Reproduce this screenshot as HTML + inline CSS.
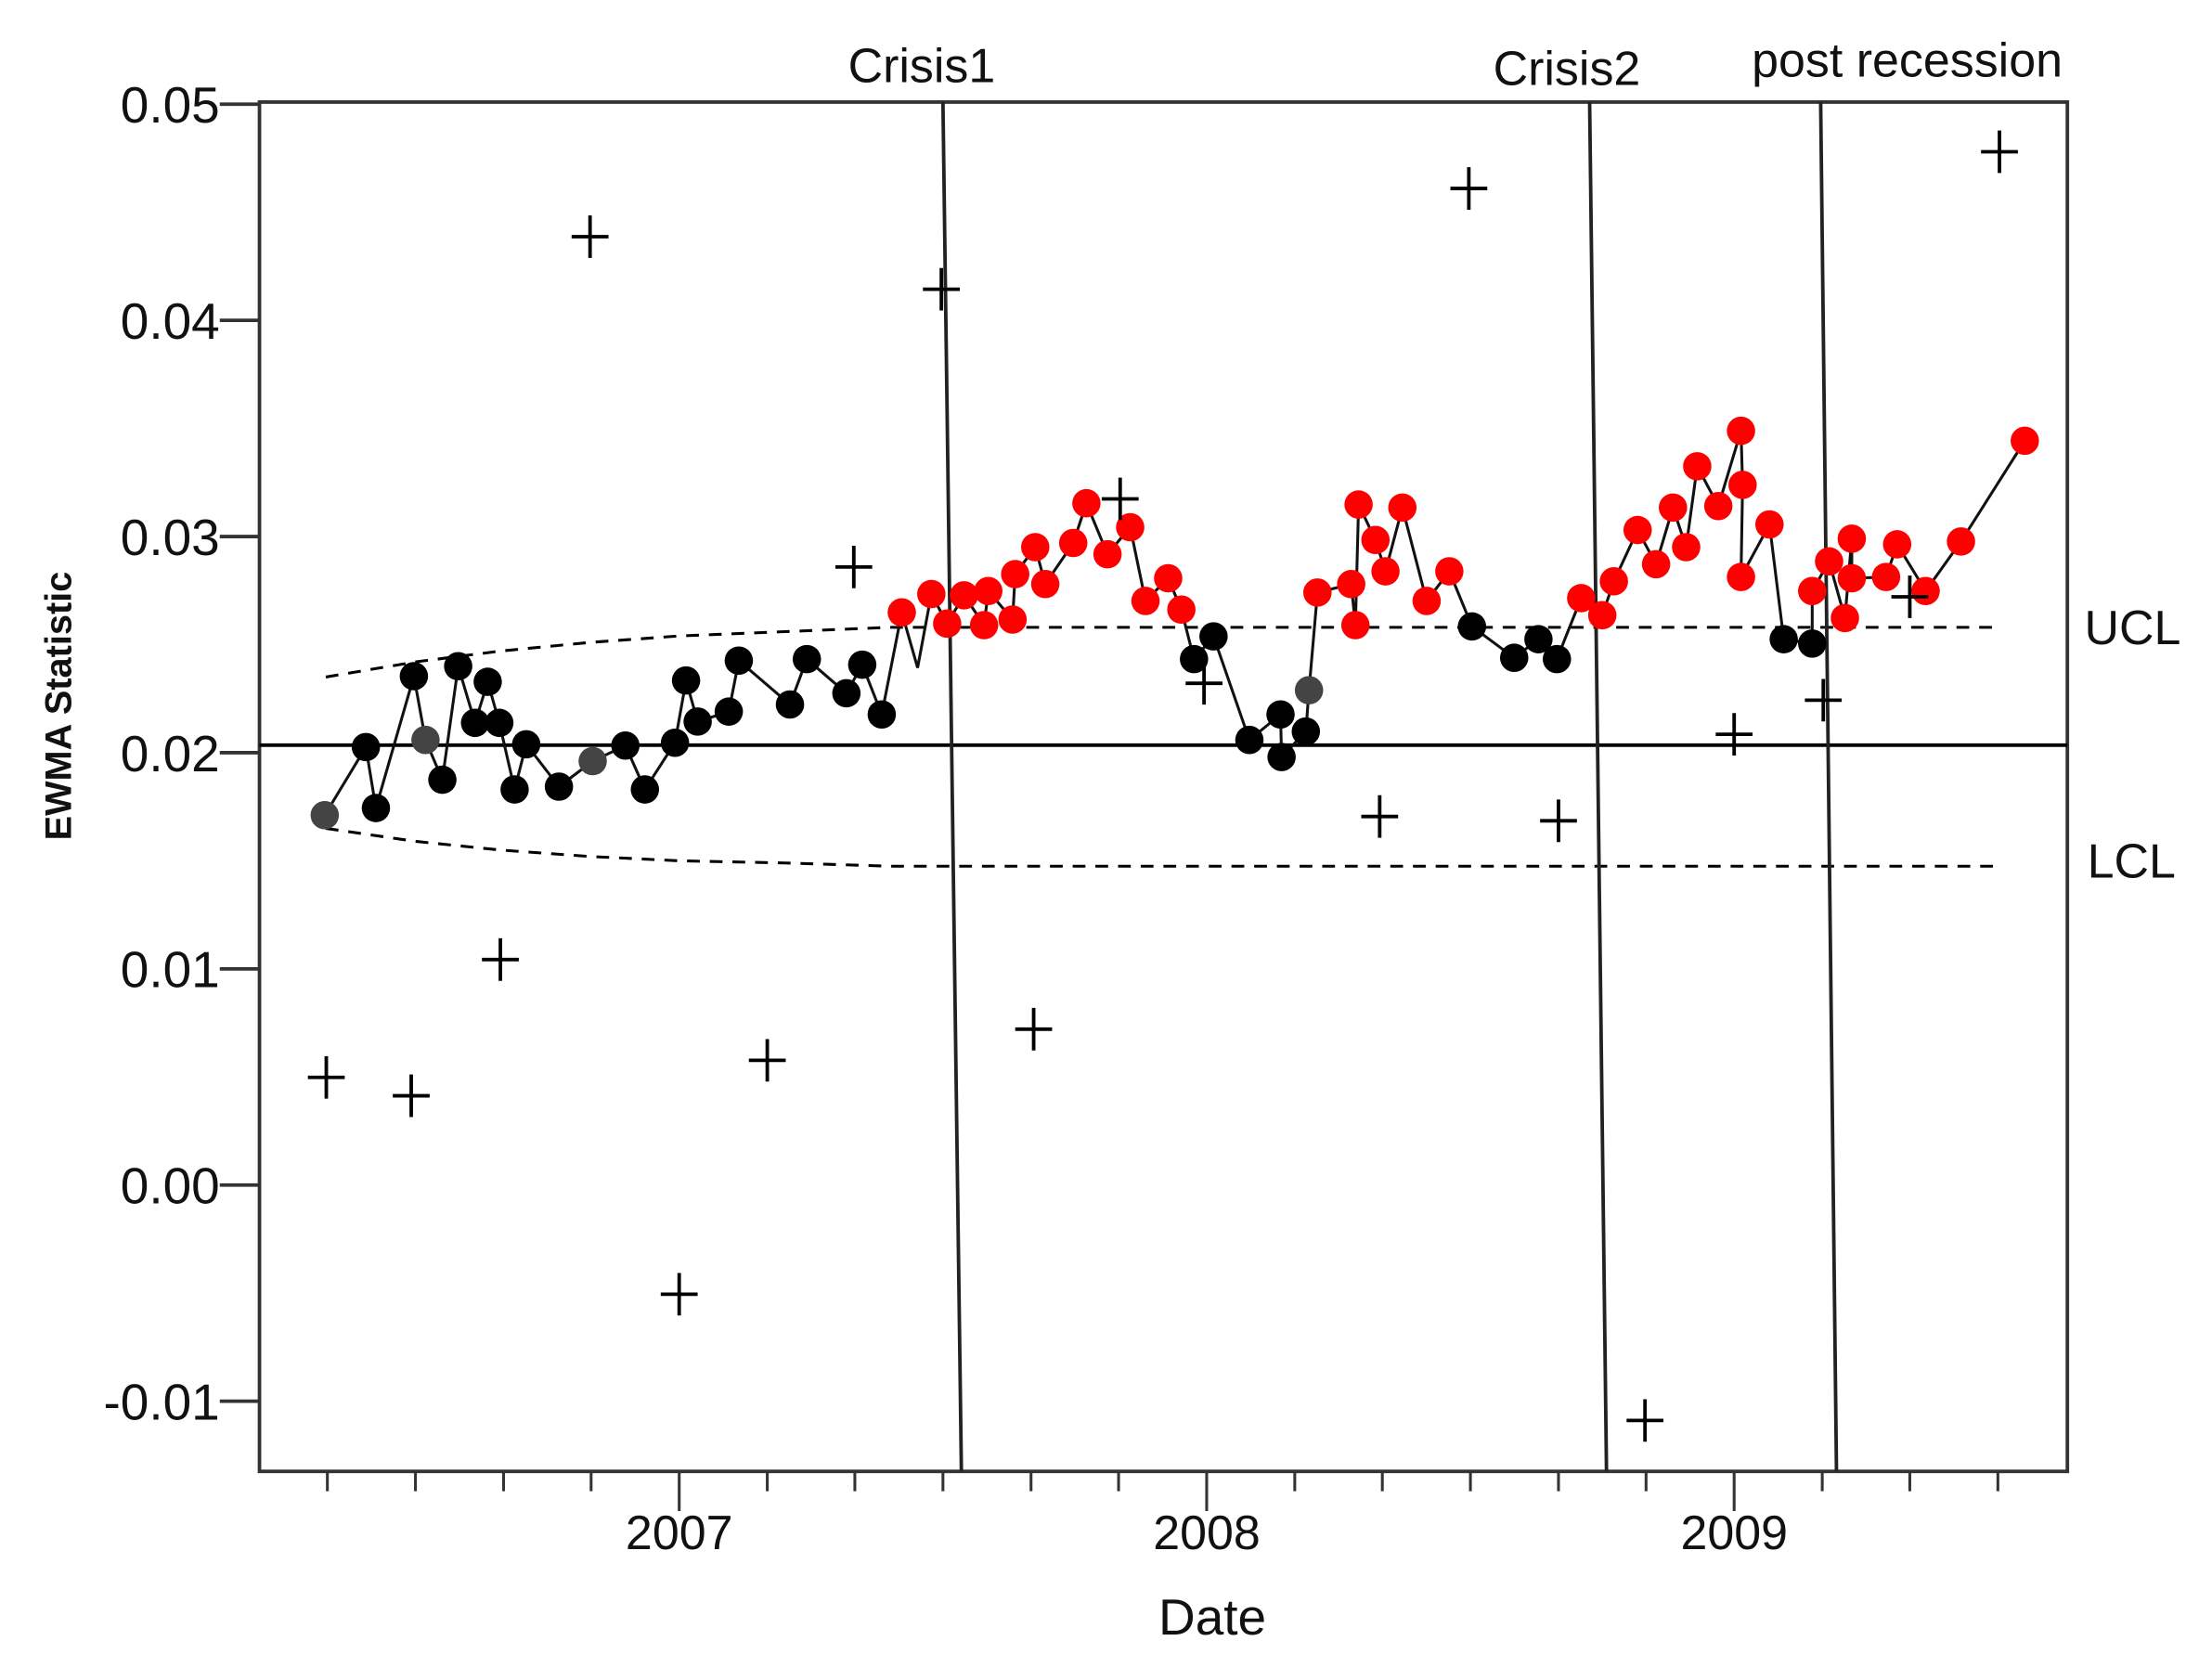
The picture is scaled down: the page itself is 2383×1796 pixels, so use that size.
<!DOCTYPE html>
<html><head><meta charset="utf-8"><style>html,body{margin:0;padding:0;background:#fff}svg{display:block}</style></head>
<body>
<svg id="chart" xmlns="http://www.w3.org/2000/svg" width="2383" height="1796" viewBox="0 0 1560 1176" preserveAspectRatio="none" font-family="Liberation Sans, sans-serif">
<rect x="0" y="0" width="1560" height="1176" fill="#fff"/>
</svg>
<script>
// ---- data ----
const ewmaDates = [2006.328,2006.406,2006.425,2006.497,2006.519,2006.551,2006.581,2006.613,2006.637,2006.659,2006.688,2006.710,2006.772,2006.836,2006.898,2006.935,2006.992,2007.013,2007.035,2007.094,2007.113,2007.210,2007.242,2007.317,2007.347,2007.384,2007.422,2007.452,2007.478,2007.508,2007.540,2007.578,2007.586,2007.632,2007.637,2007.675,2007.694,2007.747,2007.772,2007.812,2007.855,2007.884,2007.927,2007.952,2007.976,2008.013,2008.081,2008.140,2008.142,2008.188,2008.194,2008.210,2008.274,2008.282,2008.288,2008.320,2008.339,2008.371,2008.417,2008.460,2008.503,2008.583,2008.629,2008.664,2008.710,2008.750,2008.772,2008.817,2008.852,2008.884,2008.909,2008.930,2008.970,2009.013,2009.016,2009.013,2009.067,2009.094,2009.148,2009.148,2009.180,2009.210,2009.223,2009.223,2009.288,2009.309,2009.363,2009.430,2009.551];
const ewmaValues = [0.01711,0.02026,0.01744,0.02354,0.02059,0.01875,0.02400,0.02138,0.02328,0.02138,0.01830,0.02039,0.01843,0.01961,0.02033,0.01830,0.02046,0.02334,0.02144,0.02190,0.02426,0.02223,0.02433,0.02275,0.02407,0.02177,0.02649,0.02393,0.02734,0.02597,0.02728,0.02590,0.02748,0.02616,0.02826,0.02951,0.02780,0.02970,0.03154,0.02918,0.03043,0.02702,0.02807,0.02662,0.02433,0.02538,0.02059,0.02177,0.01980,0.02098,0.02289,0.02741,0.02780,0.02590,0.03148,0.02984,0.02839,0.03134,0.02702,0.02839,0.02584,0.02439,0.02525,0.02433,0.02715,0.02636,0.02793,0.03030,0.02872,0.03134,0.02951,0.03325,0.03141,0.03489,0.03239,0.02813,0.03056,0.02525,0.02505,0.02748,0.02885,0.02623,0.02990,0.02807,0.02813,0.02964,0.02748,0.02977,0.03443];
const ewmaFlags = "gkkkgkkkkkkkkgkkkkkkkkkkkk" + "rn" + "rrrrrrrrrrrrrrrr" + "kkkkkkg" + "rrrrrrrrr" + "kkkk" + "rrrrrrrrrrrrr" + "kk" + "rrrrrrrrrr";
const rawDates = [2006.331,2006.492,2006.661,2006.831,2007.0,2007.167,2007.331,2007.497,2007.672,2007.836,2007.995,2008.328,2008.497,2008.667,2008.831,2009.0,2009.169,2009.333,2009.503];
const rawValues = [0.00498,0.00413,0.01043,0.04387,-0.00505,0.00577,0.02859,0.04144,0.00721,0.03174,0.02321,0.01705,0.04610,0.01685,-0.01089,0.02085,0.02243,0.02721,0.04780];
const limitDates = [2006.33,2006.5,2006.66,2006.83,2007.0,2007.2,2007.4,2009.5];
const uclValues = [0.0235,0.0242,0.0247,0.0251,0.0254,0.0256,0.0258,0.0258];
const lclValues = [0.0165,0.0159,0.0155,0.0152,0.0150,0.0149,0.01475,0.01475];
const centerValue = 0.02035;
const yTicks = [0.05,0.04,0.03,0.02,0.01,0.00,-0.01];
const yTickLabels = ["0.05","0.04","0.03","0.02","0.01","0.00","-0.01"];
const xYears = [2007,2008,2009];
const minorTicks = [2006.333,2006.5,2006.667,2006.833,2007,2007.167,2007.333,2007.5,2007.667,2007.833,2008,2008.167,2008.333,2008.5,2008.667,2008.833,2009,2009.167,2009.333,2009.5];
const eventNames = ["Crisis1","Crisis2","post recession"];
const eventTop = [2007.500,2008.726,2009.164];
const eventBottom = [2007.535,2008.758,2009.194];

// ---- axes ----
const L=183,T=72,R=1458,B=1038;
const X = d => 479 + (d-2007)*372;
const Y = v => 836 - v*15250;
const svg = document.getElementById('chart');
const NS='http://www.w3.org/2000/svg';
function mk(tag, attrs, parent){const e=document.createElementNS(NS,tag);for(const k in attrs)e.setAttribute(k,attrs[k]);(parent||svg).appendChild(e);return e;}

const frame = mk('rect',{x:L,y:T,width:R-L,height:B-T,fill:'none',stroke:'#333','stroke-width':2.5});



yTicks.forEach((v,i)=>{
  const t=mk('line',{x1:L-28,x2:L,y1:Y(v),y2:Y(v),stroke:'#333','stroke-width':2.5});
  
  
  const tx=mk('text',{x:L-28,y:Y(v)+13,'text-anchor':'end','font-size':36,fill:'#111'});
  tx.textContent=yTickLabels[i];
  
  
});
minorTicks.forEach(d=>{
  const isYear = xYears.some(y=>Math.abs(y-d)<0.001);
  const t=mk('line',{x1:X(d),x2:X(d),y1:B,y2:B+(isYear?28:14),stroke:'#333','stroke-width':2});
  
  
});
xYears.forEach(y=>{
  const tx=mk('text',{x:X(y),y:B+55,'text-anchor':'middle','font-size':34,fill:'#111'});
  tx.textContent=String(y);
  
  
});
const xt=mk('text',{x:855,y:1153,'text-anchor':'middle','font-size':36,fill:'#111'});
xt.textContent='Date';


const yt=mk('text',{x:0,y:0,'text-anchor':'middle','font-size':26,'font-weight':'bold',fill:'#111',transform:'translate(50,498) rotate(-90)'});
yt.textContent='EWMA Statistic';



const cl=mk('line',{x1:L,x2:R,y1:Y(centerValue),y2:Y(centerValue),stroke:'#000','stroke-width':2.5});


const uclP=mk('polyline',{points:limitDates.map((d,i)=>X(d)+','+Y(uclValues[i])).join(' '),fill:'none',stroke:'#000','stroke-width':2,'stroke-dasharray':'9,7'});


const lclP=mk('polyline',{points:limitDates.map((d,i)=>X(d)+','+Y(lclValues[i])).join(' '),fill:'none',stroke:'#000','stroke-width':2,'stroke-dasharray':'9,7'});


const ul=mk('text',{x:1470,y:Y(uclValues[uclValues.length-1])+12,'font-size':34,fill:'#111'});
ul.textContent='UCL';


const ll=mk('text',{x:1472,y:Y(lclValues[lclValues.length-1])+8,'font-size':34,fill:'#111'});
ll.textContent='LCL';



const labelX=[650,1105,1345], labelY=[58,60,54];
eventNames.forEach((n,i)=>{
  const ln=mk('line',{x1:X(eventTop[i]),y1:T,x2:X(eventBottom[i]),y2:B,stroke:'#222','stroke-width':2.5});
  
  
  const tx=mk('text',{x:labelX[i],y:labelY[i],'text-anchor':'middle','font-size':34,fill:'#111'});
  tx.textContent=n;
  
  
});

const path=mk('polyline',{points:ewmaDates.map((d,i)=>X(d)+','+Y(ewmaValues[i])).join(' '),fill:'none',stroke:'#111','stroke-width':2});


ewmaDates.forEach((d,i)=>{
  const f=ewmaFlags[i]||'r';
  if(f==='n')return;
  const c=mk('circle',{cx:X(d),cy:Y(ewmaValues[i]),r:10,fill:f==='r'?'#f00':(f==='g'?'#444':'#000')});
  
  
});

rawDates.forEach((d,i)=>{
  const x=X(d),y=Y(rawValues[i]);
  const p=mk('path',{d:`M${x-13},${y}H${x+13}M${x},${y-15}V${y+15}`,stroke:'#000','stroke-width':2.5,fill:'none'});
  
  
});
</script>
</body></html>
